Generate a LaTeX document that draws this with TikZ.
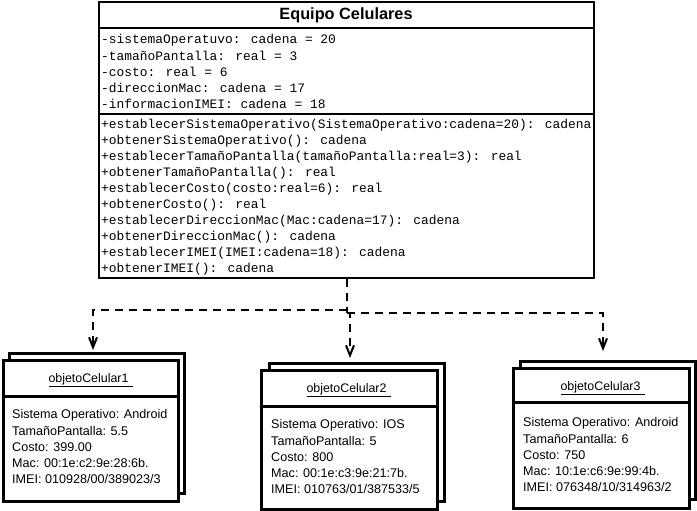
\documentclass[tikz,border=0pt]{standalone}
\usepackage{fontspec}
\setmainfont{Liberation Sans}
\newfontfamily\monof{Liberation Mono}
\usetikzlibrary{arrows.meta}
\tikzset{
  mono/.style={anchor=west,inner sep=0pt,font=\monof\fontsize{12.9}{14}\selectfont},
  body/.style={anchor=west,inner sep=0pt,font=\fontsize{12.6}{14}\selectfont},
  otitle/.style={inner sep=0pt,font=\fontsize{12.4}{14}\selectfont},
  objbox/.style={draw,line width=3pt,fill=white,anchor=north west,inner sep=0pt},
  dashline/.style={line width=2pt,dash pattern=on 8pt off 6pt},
  deparrow/.style={dashline,-{Straight Barb[length=10pt,width=8pt]}},
}
\begin{document}
\begin{tikzpicture}[x=1pt,y=-1pt]
\useasboundingbox[fill=white] (0,0) rectangle (697,511);
% class box
\node[draw,line width=2pt,anchor=north west,minimum width=495pt,minimum height=276pt,inner sep=0pt] (cls) at (98,1) {};
\draw[line width=2pt] (98,28) -- (593,28);
\draw[line width=2pt] (98,114) -- (593,114);
\node[font=\bfseries\fontsize{16.3}{18}\selectfont] (ttl) at (346,15.5) {Equipo Celulares};
\node[mono] (a1) at (101,40) {-sistemaOperatuvo: cadena = 20};
\node[mono] (a2) at (101,56) {-tamañoPantalla: real = 3};
\node[mono] (a3) at (101,72) {-costo: real = 6};
\node[mono] (a4) at (101,88) {-direccionMac: cadena = 17};
\node[mono] (a5) at (101,104) {-informacionIMEI: cadena = 18};
\node[mono] (m1) at (101,125) {+establecerSistemaOperativo(SistemaOperativo:cadena=20): cadena};
\node[mono] (m2) at (101,141) {+obtenerSistemaOperativo(): cadena};
\node[mono] (m3) at (101,157) {+establecerTamañoPantalla(tamañoPantalla:real=3): real};
\node[mono] (m4) at (101,173) {+obtenerTamañoPantalla(): real};
\node[mono] (m5) at (101,189) {+establecerCosto(costo:real=6): real};
\node[mono] (m6) at (101,205) {+obtenerCosto(): real};
\node[mono] (m7) at (101,221) {+establecerDireccionMac(Mac:cadena=17): cadena};
\node[mono] (m8) at (101,237) {+obtenerDireccionMac(): cadena};
\node[mono] (m9) at (101,253) {+establecerIMEI(IMEI:cadena=18): cadena};
\node[mono] (m10) at (101,269) {+obtenerIMEI(): cadena};
% object 1
\node[objbox,minimum width=175pt,minimum height=140pt] (b1) at (8,352) {};
\node[objbox,minimum width=175pt,minimum height=141pt] (f1) at (1.5,359) {};
\draw[line width=3pt] (1.5,396) -- (176.5,396);
\node[otitle] (o1) at (91,380) {\underline{objetoCelular1\hspace{5pt}}};
\node[body] (o1l1) at (12,415) {Sistema Operativo: Android};
\node[body] (o1l2) at (12,431) {TamañoPantalla: 5.5};
\node[body] (o1l3) at (12,447) {Costo: 399.00};
\node[body] (o1l4) at (12,463) {Mac: 00:1e:c2:9e:28:6b.};
\node[body] (o1l5) at (12,479) {IMEI: 010928/00/389023/3};
% object 2
\node[objbox,minimum width=175pt,minimum height=138pt] (b2) at (268,362) {};
\node[objbox,minimum width=176pt,minimum height=139pt] (f2) at (260,369) {};
\draw[line width=3pt] (260,406) -- (436,406);
\node[otitle] (o2) at (349,390) {\underline{objetoCelular2\hspace{5pt}}};
\node[body] (o2l1) at (271,425) {Sistema Operativo: IOS};
\node[body] (o2l2) at (271,441) {TamañoPantalla: 5};
\node[body] (o2l3) at (271,457) {Costo: 800};
\node[body] (o2l4) at (271,473) {Mac: 00:1e:c3:9e:21:7b.};
\node[body] (o2l5) at (271,489) {IMEI: 010763/01/387533/5};
% object 3
\node[objbox,minimum width=175pt,minimum height=138pt] (b3) at (519,360) {};
\node[objbox,minimum width=176pt,minimum height=140pt] (f3) at (512,367) {};
\draw[line width=3pt] (512,402) -- (688,402);
\node[otitle] (o3) at (603,388) {\underline{objetoCelular3\hspace{5pt}}};
\node[body] (o3l1) at (523,423) {Sistema Operativo: Android};
\node[body] (o3l2) at (523,439) {TamañoPantalla: 6};
\node[body] (o3l3) at (523,455) {Costo: 750};
\node[body] (o3l4) at (523,471) {Mac: 10:1e:c6:9e:99:4b.};
\node[body] (o3l5) at (523,487) {IMEI: 076348/10/314963/2};
% connectors
\coordinate (jL) at (347,310);
\coordinate (jR) at (347,313);
\coordinate (t1) at (93,350);
\coordinate (t2) at (350,358);
\coordinate (t3) at (603,351);
\draw[dashline] (cls.south -| jR) -- (jR);
\draw[deparrow] (jL) -| (t1);
\draw[deparrow] (jR) -| (t2);
\draw[deparrow] (jR) -| (t3);
\end{tikzpicture}
\end{document}
